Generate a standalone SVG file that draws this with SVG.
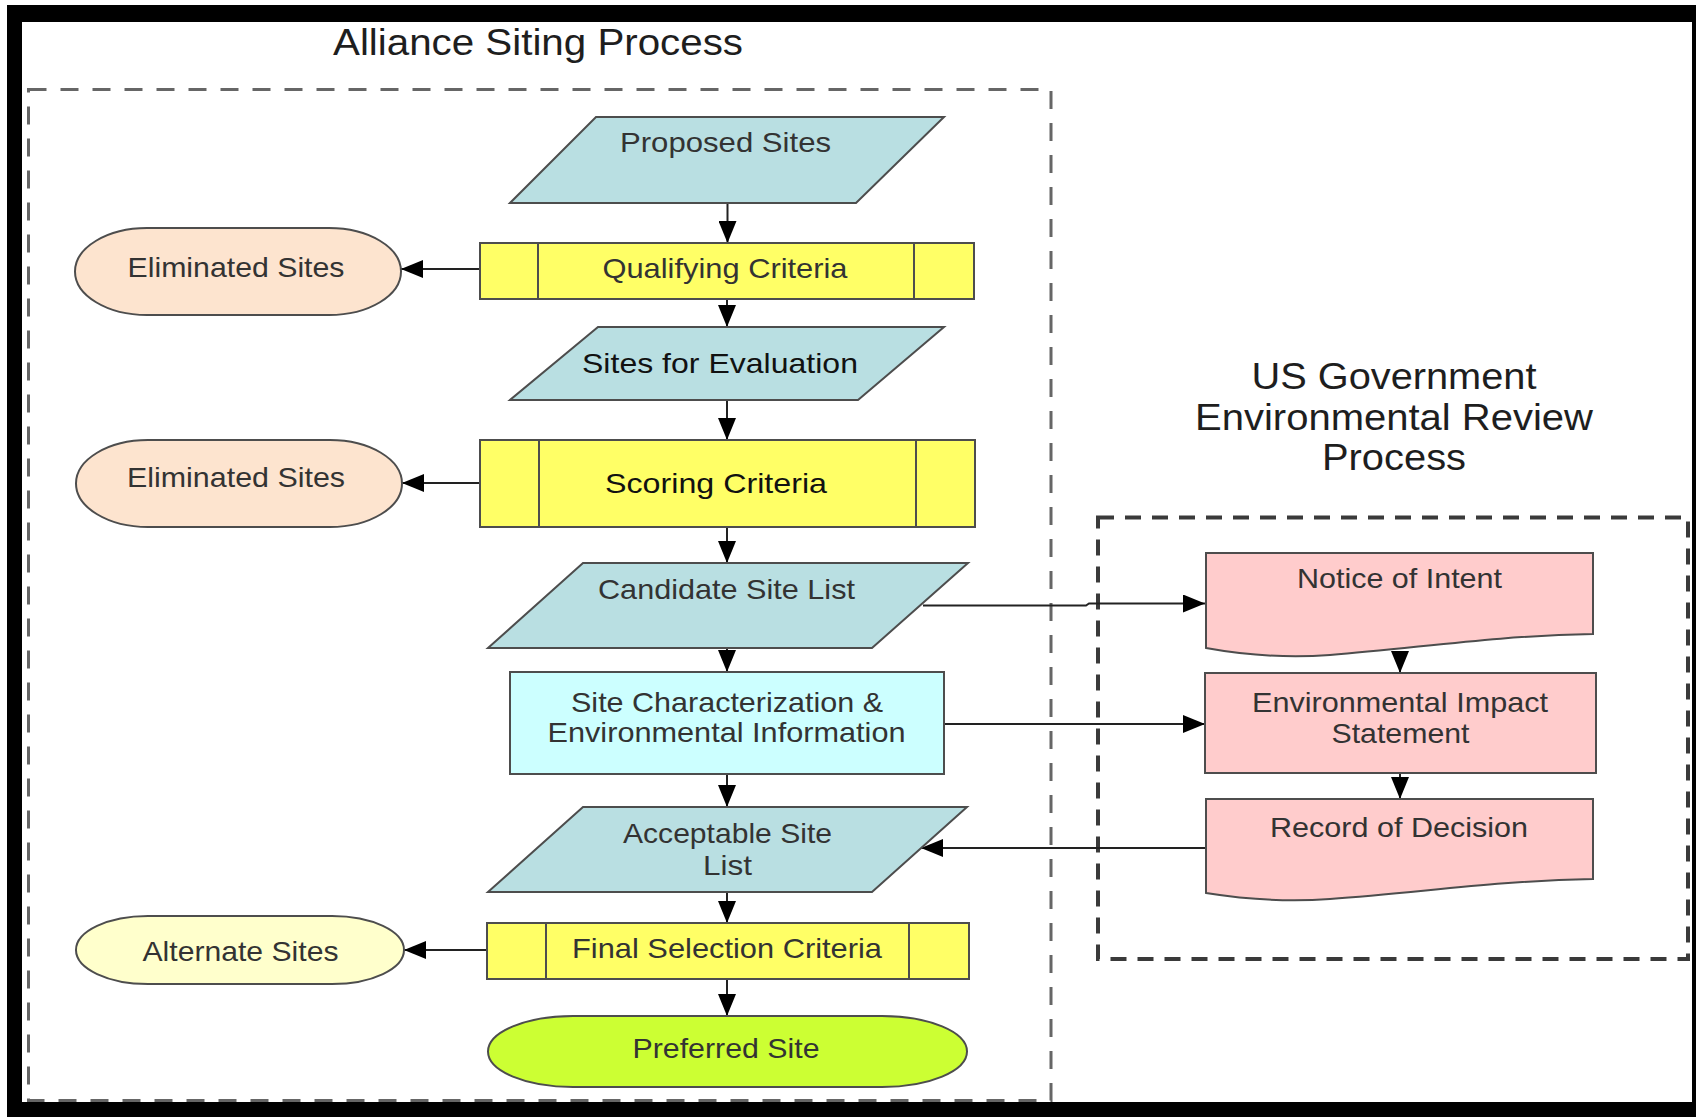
<svg xmlns="http://www.w3.org/2000/svg" width="1696" height="1117" viewBox="0 0 1696 1117">
  <defs>
    <style>
      .t { font-family: "Liberation Sans", Arial, sans-serif; font-size: 28px; fill: #333; text-anchor: middle; }
      .dark { fill: #111; }
      .title { font-family: "Liberation Sans", Arial, sans-serif; font-size: 36px; fill: #1e1e1e; text-anchor: middle; }
      .shape { stroke: #4d4d4d; stroke-width: 2; }
      .data { fill: #b9dfe2; }
      .pred { fill: #ffff66; }
      .elim { fill: #fde4cf; }
      .alt { fill: #ffffcc; }
      .pref { fill: #ccff33; }
      .info { fill: #ccffff; }
      .doc { fill: #ffcccc; }
      .conn { fill: none; stroke: #222; stroke-width: 2; marker-end: url(#arrow); }
      .group-left { fill: none; stroke: #666; stroke-width: 3; stroke-dasharray: 18 14; }
      .group-right { fill: none; stroke: #3a3a3a; stroke-width: 4; stroke-dasharray: 16 11; }
    </style>
    <marker id="arrow" viewBox="0 0 22 18" refX="22" refY="9" markerWidth="22" markerHeight="18" markerUnits="userSpaceOnUse" orient="auto">
      <path d="M0,0 L22,9 L0,18 Z" fill="#000"/>
    </marker>
  </defs>

  <rect width="1696" height="1117" fill="#fff"/>

  <!-- process group frames -->
  <rect class="group-left" x="28.5" y="89.5" width="1022.5" height="1011"/>
  <rect class="group-right" x="1098" y="517.5" width="590" height="441.5"/>

  <!-- group headings -->
  <text class="title" x="538" y="55" textLength="410" lengthAdjust="spacingAndGlyphs" font-size="37">Alliance Siting Process</text>
  <g id="gov-heading">
    <text class="title" x="1394" y="389" textLength="285" lengthAdjust="spacingAndGlyphs">US Government</text>
    <text class="title" x="1394" y="430" textLength="398" lengthAdjust="spacingAndGlyphs">Environmental Review</text>
    <text class="title" x="1394" y="470" textLength="144" lengthAdjust="spacingAndGlyphs">Process</text>
  </g>

  <!-- connectors -->
  <g id="connectors">
    <path class="conn" d="M727.5,203 V243"/>
    <path class="conn" d="M480,269 H401"/>
    <path class="conn" d="M727,299 V327"/>
    <path class="conn" d="M727,400 V440"/>
    <path class="conn" d="M480,483 H402"/>
    <path class="conn" d="M727,527 V563"/>
    <path class="conn" d="M923,605.5 H1086 L1089,603.5 H1205"/>
    <path class="conn" d="M727,648 V672"/>
    <path class="conn" d="M944,724 H1205"/>
    <path class="conn" d="M727,774 V807"/>
    <path class="conn" d="M1206,848 H921"/>
    <path class="conn" d="M727,892 V923"/>
    <path class="conn" d="M487,950 H404"/>
    <path class="conn" d="M727,979 V1016"/>
    <path class="conn" d="M1400,655 V673"/>
    <path class="conn" d="M1400,773 V799"/>
  </g>

  <!-- Alliance siting nodes -->
  <g id="proposed-sites">
    <polygon class="shape data" points="596,117 944,117 856,203 510,203"/>
    <text class="t" x="725.5" y="152" textLength="211" lengthAdjust="spacingAndGlyphs">Proposed Sites</text>
  </g>

  <g id="qualifying-criteria">
    <rect class="shape pred" x="480" y="243" width="494" height="56"/>
    <line class="shape" x1="538" y1="243" x2="538" y2="299"/>
    <line class="shape" x1="914" y1="243" x2="914" y2="299"/>
    <text class="t" x="725" y="278" textLength="245" lengthAdjust="spacingAndGlyphs">Qualifying Criteria</text>
  </g>

  <g id="eliminated-sites-1">
    <rect class="shape elim" x="75" y="228" width="326" height="87" rx="72" ry="43.5"/>
    <text class="t" x="236" y="277" textLength="217" lengthAdjust="spacingAndGlyphs">Eliminated Sites</text>
  </g>

  <g id="sites-for-evaluation">
    <polygon class="shape data" points="598,327 944,327 858,400 510,400"/>
    <text class="t dark" x="720" y="373" textLength="276" lengthAdjust="spacingAndGlyphs">Sites for Evaluation</text>
  </g>

  <g id="scoring-criteria">
    <rect class="shape pred" x="480" y="440" width="495" height="87"/>
    <line class="shape" x1="539" y1="440" x2="539" y2="527"/>
    <line class="shape" x1="916" y1="440" x2="916" y2="527"/>
    <text class="t dark" x="716" y="493" textLength="222" lengthAdjust="spacingAndGlyphs">Scoring Criteria</text>
  </g>

  <g id="eliminated-sites-2">
    <rect class="shape elim" x="76" y="440" width="326" height="87" rx="72" ry="43.5"/>
    <text class="t" x="236" y="487" textLength="218" lengthAdjust="spacingAndGlyphs">Eliminated Sites</text>
  </g>

  <g id="candidate-site-list">
    <polygon class="shape data" points="583,563 968,563 872,648 488,648"/>
    <text class="t" x="726.5" y="599" textLength="257" lengthAdjust="spacingAndGlyphs">Candidate Site List</text>
  </g>

  <g id="site-characterization">
    <rect class="shape info" x="510" y="672" width="434" height="102"/>
    <text class="t" x="727" y="712" textLength="312" lengthAdjust="spacingAndGlyphs">Site Characterization &amp;</text>
    <text class="t" x="726.5" y="742" textLength="358" lengthAdjust="spacingAndGlyphs">Environmental Information</text>
  </g>

  <g id="acceptable-site-list">
    <polygon class="shape data" points="583,807 967,807 872,892 488,892"/>
    <text class="t" x="727.5" y="843" textLength="209" lengthAdjust="spacingAndGlyphs">Acceptable Site</text>
    <text class="t" x="727.5" y="875" textLength="49" lengthAdjust="spacingAndGlyphs">List</text>
  </g>

  <g id="final-selection-criteria">
    <rect class="shape pred" x="487" y="923" width="482" height="56"/>
    <line class="shape" x1="546" y1="923" x2="546" y2="979"/>
    <line class="shape" x1="909" y1="923" x2="909" y2="979"/>
    <text class="t" x="727" y="958" textLength="310" lengthAdjust="spacingAndGlyphs">Final Selection Criteria</text>
  </g>

  <g id="alternate-sites">
    <rect class="shape alt" x="76" y="916" width="328" height="68" rx="72" ry="34"/>
    <text class="t" x="240.5" y="961" textLength="196" lengthAdjust="spacingAndGlyphs">Alternate Sites</text>
  </g>

  <g id="preferred-site">
    <rect class="shape pref" x="488" y="1016" width="479" height="71" rx="85" ry="35.5"/>
    <text class="t" x="726" y="1058" textLength="187" lengthAdjust="spacingAndGlyphs">Preferred Site</text>
  </g>

  <!-- government review nodes -->
  <g id="notice-of-intent">
    <path class="shape doc" d="M1206,553 H1593 V634 C1490,636 1420,648 1330,655 C1290,658 1250,656 1206,648 Z"/>
    <text class="t" x="1399.5" y="588" textLength="205" lengthAdjust="spacingAndGlyphs">Notice of Intent</text>
  </g>

  <g id="environmental-impact-statement">
    <rect class="shape doc" x="1205" y="673" width="391" height="100"/>
    <text class="t" x="1400" y="712" textLength="296" lengthAdjust="spacingAndGlyphs">Environmental Impact</text>
    <text class="t" x="1400.5" y="743" textLength="138" lengthAdjust="spacingAndGlyphs">Statement</text>
  </g>

  <g id="record-of-decision">
    <path class="shape doc" d="M1206,799 H1593 V879 C1490,881 1420,893 1330,899 C1290,902 1250,900 1206,893 Z"/>
    <text class="t" x="1399" y="837" textLength="258" lengthAdjust="spacingAndGlyphs">Record of Decision</text>
  </g>

  <!-- outer black frame -->
  <path d="M7,5 H1696 V1117 H7 Z M22,22 V1102 H1692 V22 Z" fill="#000" fill-rule="evenodd"/>
</svg>
